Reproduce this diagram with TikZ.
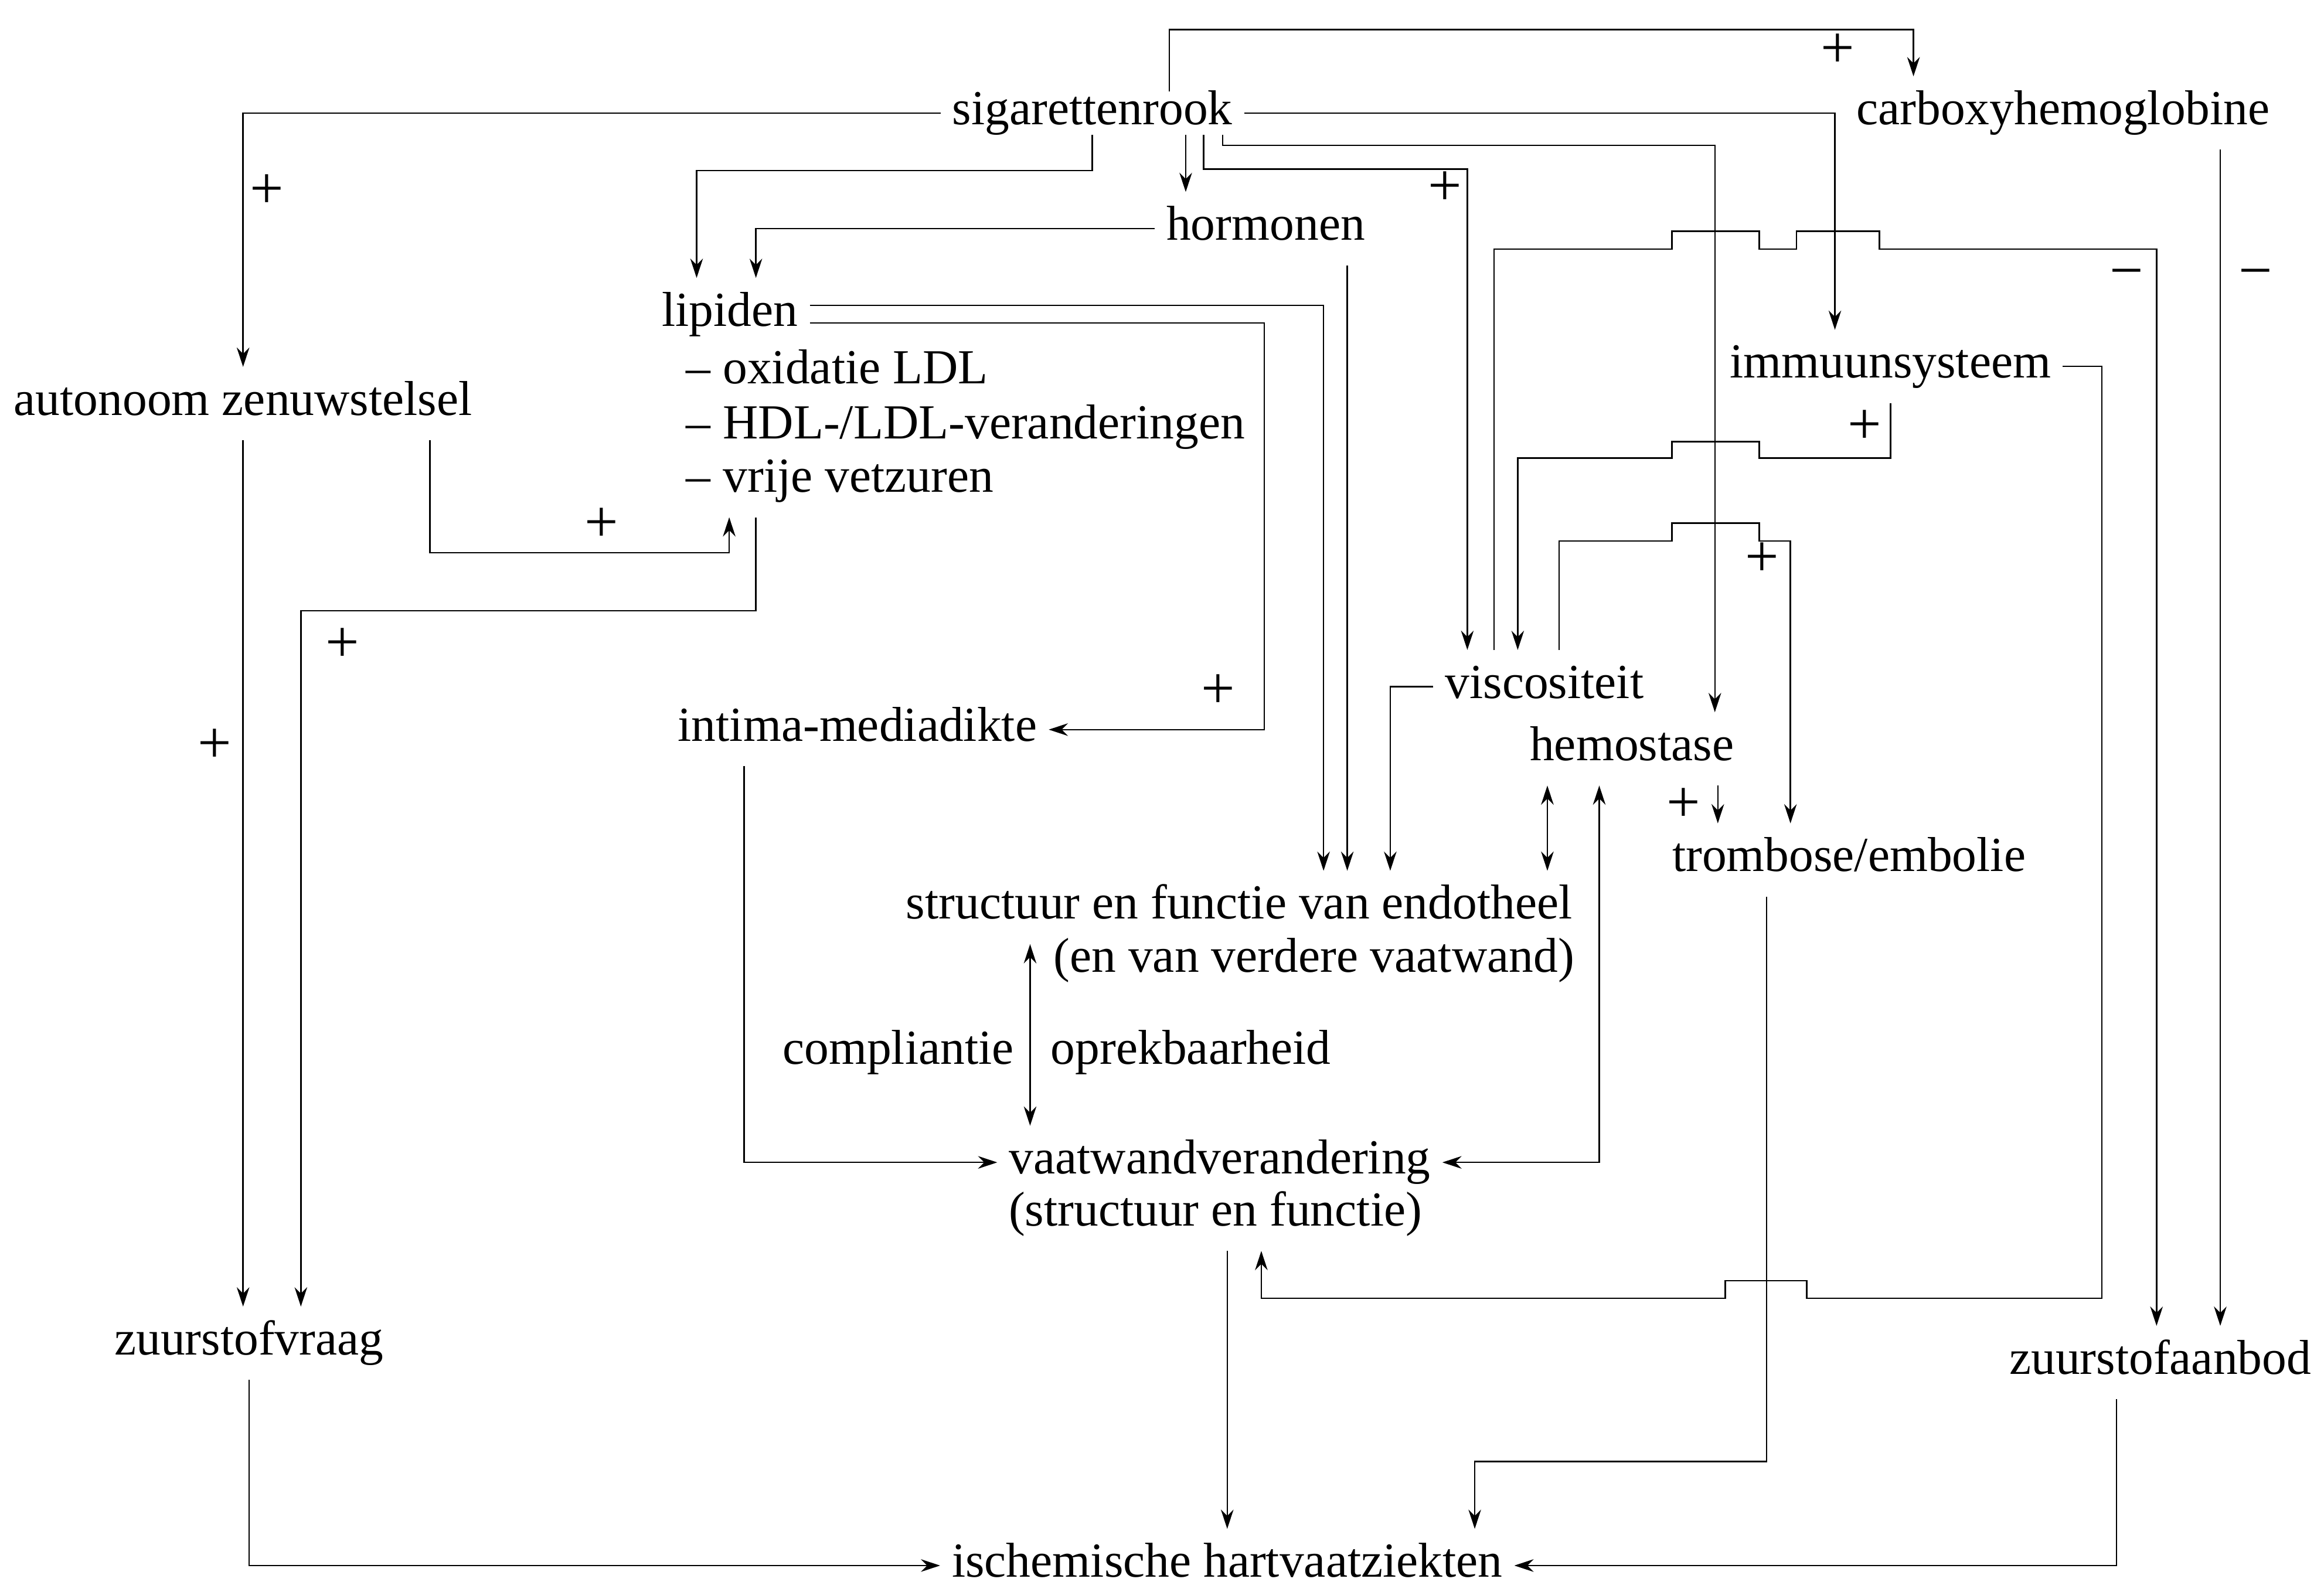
\documentclass[tikz,border=0pt]{standalone}
\usepackage{xcolor}
\usepackage{fontspec}
\usepackage{tikz}
\usetikzlibrary{arrows.meta}
\setmainfont{Liberation Serif}
\newcommand{\lblfont}{\fontsize{18.8}{22}\selectfont}
\newcommand{\signfont}{\fontsize{23}{23}\selectfont}

\begin{document}
\begin{tikzpicture}[x=0.02cm, y=-0.02cm, line width=0.55pt, >={Stealth[length=0.26cm, width=0.17cm]},
    every node/.style={font=\lblfont, inner sep=0pt, outer xsep=0.16cm, outer ysep=0.2cm, text height=0.45cm, text depth=0.14cm, anchor=base},
    sign/.style={anchor=center, font=\signfont}]
    \useasboundingbox (0,0) rectangle (1568,1072);

    % Top row - positioned explicitly
    \node[outer ysep=0pt] (rook) at (737,84) {sigarettenrook};
    \node (cohb) at (1392,84) {carboxyhemoglobine};
    \node (hormonen) at (854,162) {hormonen};

    % Lipiden with list below
    \node (lipiden) at (492.5,220) {lipiden};
    \node[anchor=base west] (ldlA) at (455,259) {– oxidatie LDL};
    \node[anchor=base west] (ldlB) at (455,296) {– HDL-/LDL-veranderingen};
    \node[anchor=base west] (ldlC) at (455,332) {– vrije vetzuren};

    \node (autonoom) at (164,280) {autonoom zenuwstelsel};
    \node (immuun) at (1275.5,255) {immuunsysteem};
    \node (intima) at (578.5,500) {intima-mediadikte};

    % Blood side
    \node (visc) at (1042,471) {viscositeit};
    \node (hemo) at (1101,513) {hemostase};
    \node (thromb) at (1247.5,588) {trombose/embolie};

    % Vessel wall
    \node (endoA) at (836,620) {structuur en functie van endotheel};
    \node (endoB) at (886.5,656) {(en van verdere vaatwand)};
    \node (compl) at (606,718) {compliantie};
    \node (oprek) at (803.5,718) {oprekbaarheid};
    \node (wallA) at (823,792) {vaatwandverandering};
    \node (wallB) at (820,827) {(structuur en functie)};

    % Bottom
    \node (zvraag) at (168,914) {zuurstofvraag};
    \node (zaanbod) at (1457.5,927) {zuurstofaanbod};
    \node (ischem) at (828,1064) {ischemische hartvaatziekten};

    % Arrows from sigarettenrook
    \draw[->] (rook.north -| 789,0) -- (789,20) -| (cohb.north -| 1291,0);
    \draw[->] (rook.east) -| (immuun.north -| 1238,0);
    \draw[->] (rook.west) -| (autonoom.north);
    \draw[->] (rook.south) |- (470,115) -- (lipiden.north -| 470,0);
    \draw[->] (rook.south -| 800,0) -- (hormonen.north -| 800,0);
    \draw[->] (rook.south -| 812,0) |- (990,114) -- (visc.north -| 990,0);
    \draw[->] (rook.south -| 825,0) |- (1157,98) -- (hemo.north -| 1157,0);

    % Hormonen and lipiden
    \draw[->] (hormonen.west) -| (lipiden.north -| 510,0);
    \draw[->] (hormonen.south -| 909,0) -- (endoA.north -| 909,0);
    \draw[->] (lipiden.east |- 0,206) -| (endoA.north -| 893,0);
    \draw[->] (lipiden.east |- 0,218) -| (853,0 |- intima.east) -- (intima.east);

    % Autonoom zenuwstelsel
    \draw[->] (autonoom.south) -- (zvraag.north -| autonoom.south);
    \draw[->] (autonoom.south -| 290,0) |- (492,373) -- (ldlC.south -| 492,0);
    \draw[->] (ldlC.south -| 510,0) |- (203,412) -- (zvraag.north -| 203,0);

    % Viscositeit, with hops over crossing lines
    \draw[->] (visc.west) -| (endoA.north -| 938,0);
    \draw[->] (visc.north -| 1008,0) |- (1128,168) -- (1128,156) -- (1187,156) -- (1187,168)
        -- (1212,168) -- (1212,156) -- (1268,156) -- (1268,168) -| (zaanbod.north -| 1455,0);
    \draw[->] (cohb.south -| 1498,0) -- (zaanbod.north -| 1498,0);
    \draw[->] (immuun.south) |- (1187,309) -- (1187,298) -- (1128,298) -- (1128,309) -| (visc.north -| 1024,0);
    \draw[->] (visc.north -| 1052,0) |- (1128,365) -- (1128,353) -- (1187,353) -- (1187,365) -| (thromb.north -| 1208,0);

    % Hemostase
    \draw[<->] (hemo.south -| 1044,0) -- (endoA.north -| 1044,0);
    \draw[<->] (wallA.east) -| (hemo.south -| 1079,0);
    \draw[->] (hemo.south -| 1159,0) -- (thromb.north -| 1159,0);
    \draw[->] (thromb.south -| 1192,0) |- (995,986) -- (ischem.north -| 995,0);

    % Vaatwand
    \draw[->] (intima.south -| 502,0) |- (wallA.west);
    \draw[<->] (endoA.south -| 695,0) -- (wallA.north -| 695,0);
    \draw[->] (wallB.south -| 828,0) -- (ischem.north -| 828,0);
    \draw[->] (immuun.east) -| (1418,876) -- (1219,876) -- (1219,864) -- (1164,864) -- (1164,876) -| (wallB.south -| 851,0);

    % Oxygen to ischemische hartvaatziekten
    \draw[->] (zvraag.south) |- (ischem.west);
    \draw[->] (zaanbod.south -| 1428,0) |- (ischem.east);

    % Signs
    \node[sign] (pA) at (1240,38) {+};
    \node[sign] (pB) at (180,133) {+};
    \node[sign] (pC) at (975,131) {+};
    \node[sign] (pD) at (822,470) {+};
    \node[sign] (pE) at (145,507) {+};
    \node[sign] (pF) at (406,358) {+};
    \node[sign] (pG) at (231,439) {+};
    \node[sign] (pH) at (1258,292) {+};
    \node[sign] (pI) at (1189,381) {+};
    \node[sign] (pJ) at (1136,547) {+};
    \node[sign] (mA) at (1435,188) {−};
    \node[sign] (mB) at (1522,188) {−};
\end{tikzpicture}
\end{document}
